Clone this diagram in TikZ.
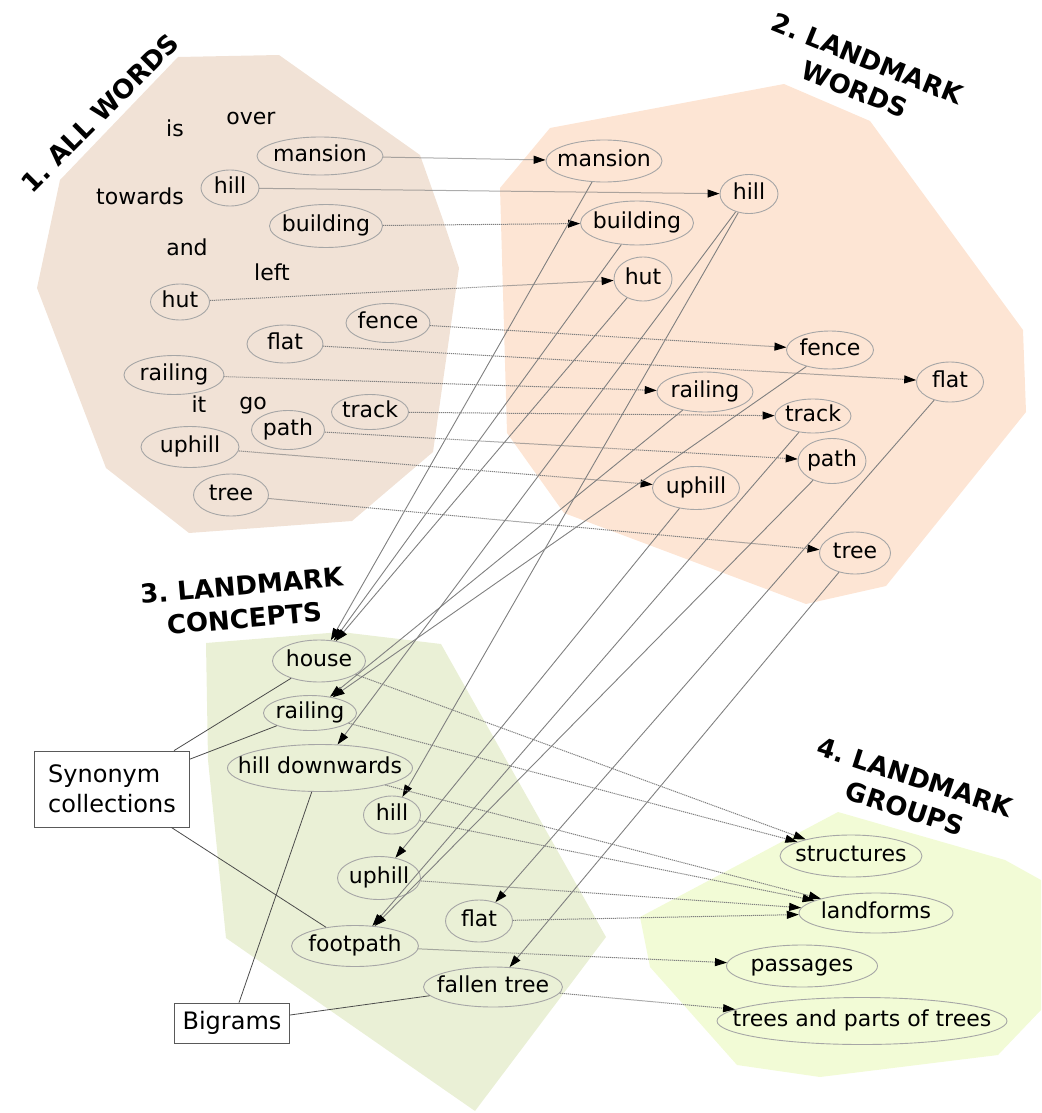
\documentclass[tikz,border=0pt]{standalone}
\usepackage{fontspec}
\setmainfont{DejaVu Sans}
\usepackage{xcolor}
\usetikzlibrary{arrows.meta,shapes.geometric}
\frenchspacing

\definecolor{allwords}{HTML}{F1E2D6}
\definecolor{lmwords}{HTML}{FDE5D4}
\definecolor{lmconcepts}{HTML}{EAF0D6}
\definecolor{lmgroups}{HTML}{F2FBD6}

\tikzset{
  word/.style 2 args={ellipse, draw=black!35, line width=0.9pt,
    inner xsep=-40pt, inner ysep=-15pt, text height=15pt, text depth=4pt,
    minimum width=#1, minimum height=#2, font=\fontsize{22}{26}\selectfont},
  plainword/.style={inner sep=0pt, text height=15pt, text depth=4pt,
    font=\fontsize{22}{26}\selectfont},
  stage/.style={align=center, font=\fontsize{26}{33}\selectfont\bfseries},
  notebox/.style={draw=black!65, fill=white, line width=0.8pt, align=left,
    font=\fontsize{24}{30}\selectfont},
  dotarrow/.style={->, draw=black!50, line width=1pt, dash pattern=on 1.2pt off 0.8pt},
  solidarrow/.style={->, draw=black!50, line width=0.9pt},
  link/.style={draw=black!70, line width=0.8pt}
}

\begin{document}
\begin{tikzpicture}[x=1pt,y=-1pt,>={Triangle[length=12pt,width=8pt,color=black]}]
  \useasboundingbox (0,0) rectangle (1041,1113);

  % Backgrounds of the four stages
  \fill[allwords] (178,57) -- (279,55) -- (420,155) -- (443,220) -- (459,268)
    -- (433,452) -- (352,521) -- (189,533) -- (106,468) -- (37,288) -- (60,180) -- cycle;
  \fill[lmwords] (550,128) -- (784,84) -- (870,121) -- (1023,330) -- (1026,412)
    -- (886,586) -- (806,604) -- (564,513) -- (507,433) -- (500,188) -- cycle;
  \fill[lmconcepts] (206,643) -- (341,632) -- (441,644) -- (606,937) -- (475,1111)
    -- (226,938) -- (208,760) -- cycle;
  \fill[lmgroups] (640,917) -- (838,812) -- (1005,860) -- (1041,880) -- (1041,1010)
    -- (998,1055) -- (820,1077) -- (737,1065) -- (650,967) -- cycle;

  % Stage titles
  \node[stage, rotate=45] (t-all) at (100,113) {1. ALL WORDS};
  \node[stage, rotate=-22] (t-words) at (861,74) {2. LANDMARK\\WORDS};
  \node[stage, rotate=5] (t-concepts) at (243,602) {3. LANDMARK\\CONCEPTS};
  \node[stage, rotate=-18] (t-groups) at (910,793) {4. LANDMARK\\GROUPS};

  % 1. All words
  \node[plainword] (all-is) at (175,131) {is};
  \node[plainword] (all-over) at (251,119) {over};
  \node[plainword] (all-towards) at (140,199) {towards};
  \node[plainword] (all-and) at (187,250) {and};
  \node[plainword] (all-left) at (272,275) {left};
  \node[plainword] (all-it) at (199,407) {it};
  \node[plainword] (all-go) at (253,404) {go};
  \node[word={126}{38}] (all-mansion) at (320,156) {mansion};
  \node[word={58}{36}] (all-hill) at (230,188) {hill};
  \node[word={113}{43}] (all-building) at (326,226) {building};
  \node[word={59}{36}] (all-hut) at (180,302) {hut};
  \node[word={84}{39}] (all-fence) at (388,323) {fence};
  \node[word={76}{38}] (all-flat) at (285,344) {flat};
  \node[word={100}{39}] (all-railing) at (174,375) {railing};
  \node[word={77}{35}] (all-track) at (370,412) {track};
  \node[word={73}{39}] (all-path) at (288,430) {path};
  \node[word={98}{41}] (all-uphill) at (190,447) {uphill};
  \node[word={75}{42}] (all-tree) at (231,495) {tree};

  % 2. Landmark words
  \node[word={116}{42}] (lw-mansion) at (604,161) {mansion};
  \node[word={58}{39}] (lw-hill) at (749,194) {hill};
  \node[word={113}{44}] (lw-building) at (637,223) {building};
  \node[word={58}{44}] (lw-hut) at (643,279) {hut};
  \node[word={87}{38}] (lw-fence) at (830,350) {fence};
  \node[word={67}{40}] (lw-flat) at (950,382) {flat};
  \node[word={96}{40}] (lw-railing) at (705,392) {railing};
  \node[word={76}{34}] (lw-track) at (813,416) {track};
  \node[word={68}{45}] (lw-path) at (832,461) {path};
  \node[word={87}{43}] (lw-uphill) at (696,488) {uphill};
  \node[word={71}{42}] (lw-tree) at (855,553) {tree};

  % 3. Landmark concepts
  \node[word={93}{42}] (lc-house) at (319,661) {house};
  \node[word={93}{35}] (lc-railing) at (310,713) {railing};
  \node[word={185}{47}] (lc-hilldown) at (320,768) {hill downwards};
  \node[word={57}{38}] (lc-hill) at (392,815) {hill};
  \node[word={83}{43}] (lc-uphill) at (379,878) {uphill};
  \node[word={67}{42}] (lc-flat) at (479,921) {flat};
  \node[word={127}{41}] (lc-footpath) at (355,946) {footpath};
  \node[word={139}{40}] (lc-fallentree) at (493,987) {fallen tree};

  % 4. Landmark groups
  \node[word={142}{42}] (lg-structures) at (851,856) {structures};
  \node[word={154}{40}] (lg-landforms) at (876,913) {landforms};
  \node[word={151}{42}] (lg-passages) at (802,966) {passages};
  \node[word={290}{47}] (lg-trees) at (862,1021) {trees and parts of trees};

  % Explanation boxes
  \node[notebox, minimum width=155pt, minimum height=76pt] (synonyms) at (112,789)
    {Synonym\\collections};
  \node[notebox, minimum width=115pt, minimum height=40pt] (bigrams) at (232,1023)
    {Bigrams};

  % All words -> landmark words
  \draw[dotarrow] (all-mansion) -- (lw-mansion);
  \draw[dotarrow] (all-hill) -- (lw-hill);
  \draw[dotarrow] (all-building) -- (lw-building);
  \draw[dotarrow] (all-hut) -- (lw-hut);
  \draw[dotarrow] (all-fence) -- (lw-fence);
  \draw[dotarrow] (all-flat) -- (lw-flat);
  \draw[dotarrow] (all-railing) -- (lw-railing);
  \draw[dotarrow] (all-track) -- (lw-track);
  \draw[dotarrow] (all-path) -- (lw-path);
  \draw[dotarrow] (all-uphill) -- (lw-uphill);
  \draw[dotarrow] (all-tree) -- (lw-tree);

  % Landmark words -> concepts
  \draw[solidarrow] (lw-mansion) -- (lc-house);
  \draw[solidarrow] (lw-building) -- (lc-house);
  \draw[solidarrow] (lw-hut) -- (lc-house);
  \draw[solidarrow] (lw-fence) -- (lc-railing);
  \draw[solidarrow] (lw-railing) -- (lc-railing);
  \draw[solidarrow] (lw-hill) -- (lc-hilldown);
  \draw[solidarrow] (lw-hill) -- (lc-hill);
  \draw[solidarrow] (lw-uphill) -- (lc-uphill);
  \draw[solidarrow] (lw-flat) -- (lc-flat);
  \draw[solidarrow] (lw-track) -- (lc-footpath);
  \draw[solidarrow] (lw-path) -- (lc-footpath);
  \draw[solidarrow] (lw-tree) -- (lc-fallentree);

  % Concepts -> groups
  \draw[dotarrow] (lc-house) -- (lg-structures);
  \draw[dotarrow] (lc-railing) -- (lg-structures);
  \draw[dotarrow] (lc-hilldown) -- (lg-landforms);
  \draw[dotarrow] (lc-hill) -- (lg-landforms);
  \draw[dotarrow] (lc-uphill) -- (lg-landforms);
  \draw[dotarrow] (lc-flat) -- (lg-landforms);
  \draw[dotarrow] (lc-footpath) -- (lg-passages);
  \draw[dotarrow] (lc-fallentree) -- (lg-trees);

  % Boxes to the concepts they explain
  \draw[link] (synonyms) -- (lc-house);
  \draw[link] (synonyms) -- (lc-railing);
  \draw[link] (synonyms) -- (lc-footpath);
  \draw[link] (bigrams) -- (lc-hilldown);
  \draw[link] (bigrams) -- (lc-fallentree);

\end{tikzpicture}
\end{document}
